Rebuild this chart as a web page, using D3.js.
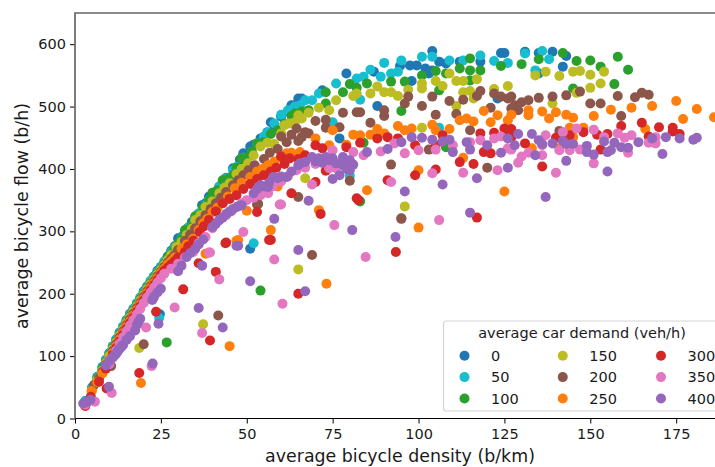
<!DOCTYPE html>
<html lang="en">
<head>
  <meta charset="utf-8">
  <title>Bicycle flow vs density</title>
  <script src="https://d3js.org/d3.v7.min.js"></script>
  <style>
    html, body { margin: 0; padding: 0; background: #fff; overflow: hidden; }
    svg { display: block; }
    text { font-family: "DejaVu Sans", sans-serif; fill: #1a1a1a; }
  </style>
</head>
<body>
  <div id="chart"></div>

  <script>
    "use strict"

    // values: [density b/km, flow b/h]
    var demand0 = [[3,28],[5,50],[6.5,67],[8,83],[9,94],[10,105],[11,116],[12,127],[13,138],[14,147],[15,158],[16,168],[17,176],[18,184],[19,194],[20,204],[21,212],[22,219],[23,228],[24,237],[25,243],[26,250],[27,260],[28,269],[29,276],[30,289],[31,291],[32,298],[33,306],[34,315],[35,322],[37,342],[38,345],[39,356],[40,358],[41,363],[42,372],[44,386],[46,401],[48,415],[49,425],[51,272],[51,436],[52,439],[54,449],[56,459],[57,475],[58,470],[60,484],[62,492],[63,502],[64,502],[65,513],[66,513],[72,526],[77,449],[79,553],[87,556],[88,501],[94.6,565],[97.5,566],[98,541],[99.5,566],[102,561],[103,553],[104,589],[104,558],[106,572],[108,569],[112,572],[118,572],[123,513],[124,586],[125,586],[131,588],[135,586],[135,553],[139,588],[142,564],[143,581],[24.7,167]]
    var demand50 = [[3,27],[5,49],[6.5,66],[8,82],[9,93],[10,104],[11,115],[12,126],[13,137],[14,148],[15,157],[16,166],[17,175],[18,185],[19,193],[20,202],[21,211],[22,221],[23,227],[24,235],[25,242],[26,252],[27,258],[28,267],[29,274],[30,278],[31,289],[33,306],[35,320],[36,329],[38,342],[39,350],[41,364],[42,371],[44,385],[46,398],[47,403],[49,418],[51.4,422],[52,281],[53,441],[55,452],[56,458],[58,473],[60,487],[62,494],[64,500],[65,499],[65.5,502],[67,510],[69,510],[71,521],[75,475],[76,537],[80,389],[82,545],[83,511],[84,548],[86,559],[89,548],[90,570],[92,553],[94,556],[95,574],[101,580],[104,580],[106,466],[109,574],[113,574],[118,582],[122,573],[126,570],[131,585],[134,558],[136,589],[138,576],[24.5,161]]
    var demand100 = [[3,25],[5,47],[6.5,64],[8,80],[9,91],[10,102],[11,113],[12,124],[13,135],[14,145],[15,155],[16,164],[17,173],[18,182],[19,191],[20,200],[21,209],[22,217],[23,225],[24,233],[25,240],[26,248],[27,259],[26.7,122],[28,264],[29,272],[30,280],[31,288],[32,302],[33,302],[34,310],[35,324],[36,326],[37.3,339],[39,350],[40,362],[41.5,366],[43,382],[44.5,384],[46,390],[47,402],[48.5,417],[50,418],[51.5,428],[53,441],[54,205],[55,443],[57,456],[59,462],[61,472],[63,485],[64,489],[66,492],[68,494],[73,505],[73,523],[78,523],[80,536],[82,530],[83,348],[84,442],[85,537],[92,540],[95,493],[96,540],[101,550],[105,557],[106,526],[108,553],[108,435],[112,561],[115,577],[115,558],[115,542],[118,558],[124,565],[130,568],[135,576],[142,586],[145,529],[146,573],[150,574],[153,564],[157,536],[158,580],[161,559]]
    var demand150 = [[3,24],[5,45],[6.5,62],[7.8,76],[9,89],[10,100],[11,111],[12,122],[13,133],[14,143],[15,153],[16,162],[17,171],[18,180],[18.7,113],[19,189],[20,198],[21,207],[22,215],[23,223],[24,231],[25,238],[26,246],[27,254],[28,262],[29.5,275],[31,283],[32.5,294],[34,304],[35,318],[36.5,326],[37.3,151],[38,339],[40,348],[42,361],[43.5,370],[45,377],[47,392],[48.5,400],[50.4,409],[52,422],[54,436],[56,442],[58,440],[60,457],[61,470],[62.5,473],[64,475],[65,239],[65,486],[66,481],[67,385],[68,490],[71,498],[74,494],[76,510],[81,517],[82,521],[86,521],[88,532],[90,523],[92,523],[94,517],[96,340],[97,527],[101,537],[101,529],[101,466],[105,541],[107,533],[109,553],[111,541],[111,501],[113,541],[113,523],[115,525],[116,513],[117,544],[122,528],[126,533],[134,550],[137,556],[139,505],[141,549],[145,556],[146,522],[147,557],[150,551],[150,530],[153,537],[154,556]]
    var demand200 = [[3,22],[5.6,54],[7,64],[8,75],[9,86],[10.5,84],[11,108],[12,119],[13,130],[14,140],[15,150],[16,159],[17,168],[18,177],[19,186],[20,195],[20,119],[21,204],[22,212],[23,220],[24,228],[25,235],[26,243],[27,250],[28,256],[29,262],[30,270],[32,285],[33.5,295],[35,305],[36.5,316],[38,326],[39.5,336],[41,345],[41.7,165],[42.5,354],[44,363],[46,374],[47.5,382],[49,390],[50.5,398],[52.3,406],[53,343],[53.3,344],[55,416],[56.7,426],[59,432],[60,452],[61.6,443],[63,455],[64.5,465],[65,355],[65,445],[66,451],[67,459],[68,457],[69,262],[70,477],[73,479],[73,466],[77,467],[78,490],[80,381],[82,491],[83,491],[86,474],[90,494],[90,485],[92,407],[95,321],[95,320],[96,505],[97,516],[101,501],[103,431],[104,516],[105,487],[109,509],[111,488],[113,511],[115,462],[117,517],[118,525],[120,402],[121,498],[122,521],[124,516],[126,513],[127,516],[127,497],[128,502],[129,494],[130,507],[132,510],[135,514],[139,516],[141,461],[143,518],[147,524],[150,505],[153,505],[158,517],[159,485],[163,515],[165,522],[167,519]]
    var demand250 = [[3,21],[4.8,44],[6.5,58],[8,72],[9,83],[10,94],[11,105],[12,116],[13,127],[14,137],[15,147],[16,156],[17,165],[18,174],[19.2,57],[19,183],[20,192],[21,201],[22,209],[23,217],[24,225],[25,233],[26,240],[27,247],[28,252],[29,258],[31,272],[32.5,279],[34.4,288],[36,302],[37.3,313],[38,264],[38.5,320],[40,331],[41.5,338],[43,345],[44.5,356],[45,116],[46.5,369],[47,285],[47.5,286],[48.5,378],[50,333],[51,387],[53,396],[54.5,400],[56.2,406],[57,302],[58,412],[59,372],[60,418],[61.6,425],[63,426],[65.5,427],[70,449],[71,334],[73.2,216],[74,438],[75,462],[79,439],[81,455],[83,454],[85,366],[86,455],[88,464],[90,457],[94,469],[96,462],[98,465],[100,306],[100,398],[104,471],[105,462],[109,464],[112,478],[113,418],[114,481],[116,476],[119,493],[121,475],[123,486],[125,364],[126,478],[127,487],[132,494],[132,486],[133,433],[136,492],[138,481],[140,491],[141,433],[143,487],[144,466],[145,482],[145,451],[148,466],[151,485],[156,495],[162,498],[166,464],[168,501],[175,509],[177,480],[181,496],[186,483]]
    var demand300 = [[3,20],[4.6,35],[9.2,48],[7,59],[9,80],[10,91],[11,102],[12,113],[13,124],[14,134],[15,144],[16,153],[17,162],[18,171],[18.7,73],[19,180],[20,189],[21,198],[22,206],[23,214],[23.6,171],[24,222],[25,230],[26,237],[27,242],[28,247],[29,252],[30,258],[31.5,207],[32,267],[33,276],[34.5,285],[36,249],[36.3,299],[37.5,308],[39,318],[39.3,125],[41,235],[41,332],[43,345],[43.8,281],[44,282],[45,352],[47,358],[49,368],[51,376],[53,331],[53,384],[55,390],[56.5,286],[57,286],[57,396],[58.6,402],[60,420],[61,408],[62.5,417],[63,361],[65,200],[65,416],[67,422],[70,438],[70,379],[71.5,328],[72,433],[73,397],[79,435],[82,353],[82.5,350],[83,442],[88,449],[91,451],[91,382],[93.4,267],[94,449],[99,438],[99,390],[105,438],[105,399],[107,454],[112,411],[116,408],[117,322],[118,457],[119,427],[121,425],[122,458],[125,465],[126,457],[127,464],[127,451],[131,441],[136,404],[140,450],[144,454],[148,459],[152,455],[153,431],[155,456],[159,469],[165,474],[167,452],[170,467],[174,466],[174,460],[176,456]]
    var demand350 = [[3,22],[5.8,27],[10.7,41],[10,87],[11,98],[12,109],[13,120],[14,130],[15,140],[16,149],[17,158],[18,167],[19,176],[20,185],[20.7,146],[21,194],[22.3,84],[22,202],[23,210],[24,218],[25,225],[26,232],[28,240],[29,178],[30,248],[32,258],[34.4,267],[36,281],[37,137],[38,291],[39,266],[39.3,266],[40,305],[42,223],[42,318],[44,326],[45.5,332],[47,339],[48.5,345],[49,299],[50,350],[52,354],[54,358],[56.2,361],[57.5,372],[58,255],[59.6,343],[60,343],[60,380],[60.4,184],[62,388],[64.5,398],[67,402],[69,375],[70,408],[72,410],[74,401],[75,430],[75.5,310],[76,401],[78,412],[80,405],[81,427],[84,422],[84.6,259],[89,428],[92,379],[93,441],[96,425],[100,430],[104,393],[105,431],[106,318],[110,438],[113,394],[115,443],[118,446],[122,449],[123,398],[124,452],[126,433],[127,431],[129,410],[130,420],[132,426],[136,438],[136,422],[137,454],[140,394],[141,430],[142,459],[144,430],[146,465],[147,431],[151,463],[151,409],[154,451],[158,457],[160,450],[161,426],[162,454],[167,442],[169,451],[169,441]]
    var demand400 = [[2.4,24],[3.5,26],[4.5,30],[9.9,51],[9,85],[10,92],[11,98],[11.5,101],[12,104],[12.5,108],[13,112],[13.5,115],[14,118],[15,126],[16,132],[17.5,141],[18,150],[18.5,155],[19,160],[22.6,88],[22.5,190],[23,195],[24.3,152],[24,202],[25,208],[30,236],[31,245],[32.5,259],[33.5,265],[35,272],[36,177],[36,279],[37,245],[37.3,287],[40,307],[41,312],[42,318],[43,146],[43,322],[44,328],[45,332],[46,336],[47,277],[47.5,277],[47.5,340],[48.5,342],[51,220],[52,361],[53,368],[54,374],[55,372],[56.2,371],[56.5,378],[57.7,387],[58,320],[59,385],[60,388],[61.6,387],[63,396],[65,270],[65,406],[65.5,409],[67,204],[67,411],[68,349],[69,419],[70,412],[71,417],[72,410],[73,419],[74,414],[75,417],[75,384],[76,409],[77,390],[78,419],[78,406],[79,400],[80,414],[80,398],[81,407],[80.7,302],[85,427],[91,432],[93.3,291],[95,443],[96,364],[98,451],[101,450],[104,447],[107,444],[107,375],[109,447],[110,427],[114,443],[115,431],[115,330],[117,385],[120,438],[124,426],[126,449],[126,402],[128,438],[129,456],[133,456],[134,422],[135,446],[136,440],[137,355],[139,441],[142,445],[143,440],[143,413],[145,440],[149,437],[149,427],[151,423],[154,444],[155,427],[155,396],[156,430],[157,442],[159,435],[161,434],[164,443],[168,449],[171,424],[172,451],[176,449],[180,447],[181,450]]

    var demands = [0, 50, 100, 150, 200, 250, 300, 350, 400]
    var seriesValues = [demand0, demand50, demand100, demand150, demand200, demand250, demand300, demand350, demand400]
    var colors = ['#1f77b4', '#17becf', '#2ca02c', '#bcbd22', '#8c564b', '#ff7f0e', '#d62728', '#e377c2', '#9467bd']
    var xTicks = [0, 25, 50, 75, 100, 125, 150, 175]
    var yTicks = [0, 100, 200, 300, 400, 500, 600]

    var largura = 715, altura = 467
    var margin = {top: 13, right: 0, bottom: 48.5, left: 75}

    var x = d3.scaleLinear().domain([0, 186.3]).range([margin.left, largura])
    var y = d3.scaleLinear().domain([0, 650]).range([altura - margin.bottom, margin.top])

    var svg = d3.select('#chart').append('svg')
      .attr('width', largura)
      .attr('height', altura)

    // pontos, uma camada por serie
    seriesValues.forEach(function(dados, i) {
      svg.append('g').selectAll('circle')
        .data(dados)
        .enter()
        .append('circle')
          .attr('cx', function(d) { return x(d[0]) })
          .attr('cy', function(d) { return y(d[1]) })
          .attr('r', 5)
          .attr('fill', colors[i])
    })

    // eixos
    var eixoX = svg.append('g')
      .attr('transform', 'translate(0,' + (altura - margin.bottom) + ')')
      .call(d3.axisBottom(x).tickValues(xTicks).tickSize(5).tickPadding(5).tickFormat(d3.format('d')))
    eixoX.selectAll('text').style('font-size', '14.5px').attr('fill', '#1a1a1a')
    eixoX.select('.domain').attr('d', 'M' + margin.left + ',0H' + largura).attr('stroke', '#000').attr('stroke-width', 1.2)

    var eixoY = svg.append('g')
      .attr('transform', 'translate(' + margin.left + ',0)')
      .call(d3.axisLeft(y).tickValues(yTicks).tickSize(5).tickPadding(4).tickFormat(d3.format('d')))
    eixoY.selectAll('text').style('font-size', '14.5px').attr('fill', '#1a1a1a')
    eixoY.select('.domain').remove()

    // spines cinza, esquerda e topo
    svg.append('path')
      .attr('d', 'M' + margin.left + ',' + y(0) + 'V' + margin.top + 'H' + largura)
      .attr('fill', 'none')
      .attr('stroke', '#666')
      .attr('stroke-width', 1.7)

    svg.append('text')
      .attr('x', 400)
      .attr('y', 462)
      .attr('text-anchor', 'middle')
      .style('font-size', '17.4px')
      .text('average bicycle density (b/km)')

    svg.append('text')
      .attr('transform', 'translate(28,216) rotate(-90)')
      .attr('text-anchor', 'middle')
      .style('font-size', '17.4px')
      .text('average bicycle flow (b/h)')

    // legenda
    var legenda = svg.append('g')
    legenda.append('rect')
      .attr('x', 443.5)
      .attr('y', 321)
      .attr('width', 290)
      .attr('height', 90)
      .attr('rx', 3)
      .attr('fill', '#fff')
      .attr('fill-opacity', 0.8)
      .attr('stroke', '#d5d5d5')
      .attr('stroke-width', 1.2)

    legenda.append('text')
      .attr('x', 582)
      .attr('y', 338)
      .attr('text-anchor', 'middle')
      .style('font-size', '14.5px')
      .text('average car demand (veh/h)')

    var colX = d3.scalePoint().domain([0, 1, 2]).range([464.5, 661])
    var rowY = d3.scalePoint().domain([0, 1, 2]).range([355.7, 398.5])

    demands.forEach(function(d, i) {
      var col = Math.floor(i / 3), row = i % 3
      legenda.append('circle')
        .attr('cx', colX(col))
        .attr('cy', rowY(row))
        .attr('r', 5)
        .attr('fill', colors[i])
      legenda.append('text')
        .attr('x', colX(col) + 26.5)
        .attr('y', rowY(row) + 5)
        .style('font-size', '14.5px')
        .text(d)
    })
  </script>
</body>
</html>
